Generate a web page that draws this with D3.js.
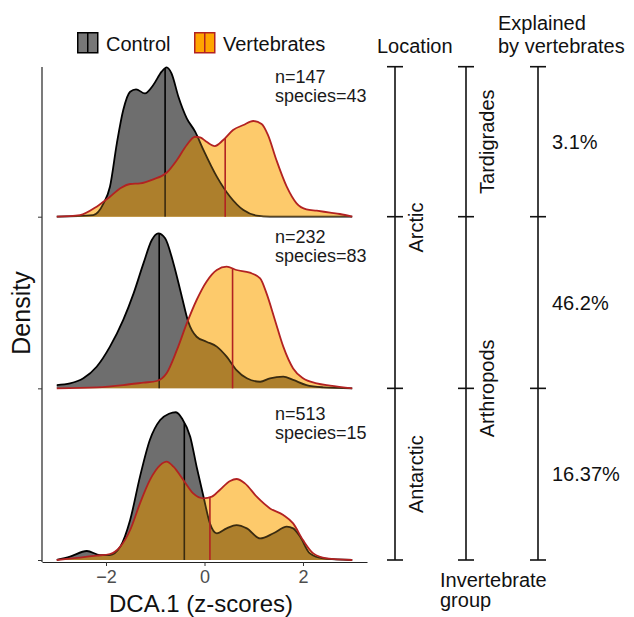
<!DOCTYPE html>
<html>
<head>
<meta charset="utf-8">
<script src="https://cdn.jsdelivr.net/npm/d3@7"></script>
<style>
  body { margin: 0; background: #fff; }
  svg { font-family: "Liberation Sans", Arial, sans-serif; }
</style>
</head>
<body>
<script>
// ---- data ----
var xTicks = [-2, 0, 2];
var sampleN = [147, 232, 513];
var speciesN = [43, 83, 15];
var controlMedian = [-0.80, -0.92, -0.41];
var vertMedian = [0.42, 0.57, 0.11];
var explained = ['3.1%', '46.2%', '16.37%'];
var locations = [{ name: 'Arctic', from: 0, to: 2 }, { name: 'Antarctic', from: 2, to: 3 }];
var groups = [{ name: 'Tardigrades', from: 0, to: 1 }, { name: 'Arthropods', from: 1, to: 3 }];

// density estimates [z-score, density] for each panel
var controlDensity = [
  [[-3.0, 0], [-2.26, 0.011], [-2.05, 0.089], [-1.92, 0.2], [-1.78, 0.489], [-1.65, 0.711], [-1.51, 0.833],
   [-1.39, 0.849], [-1.21, 0.822], [-1.04, 0.878], [-0.87, 0.967], [-0.77, 0.996], [-0.67, 0.956],
   [-0.53, 0.8], [-0.36, 0.656], [-0.19, 0.567], [-0.02, 0.444], [0.25, 0.267], [0.52, 0.133],
   [0.79, 0.044], [1.06, 0.007], [1.33, 0], [3.0, 0]],
  [[-3.0, 0.022], [-2.73, 0.033], [-2.46, 0.067], [-2.19, 0.144], [-1.92, 0.278], [-1.65, 0.456], [-1.44, 0.633],
   [-1.24, 0.833], [-1.07, 0.989], [-0.94, 1.033], [-0.80, 1.0], [-0.63, 0.833], [-0.46, 0.611],
   [-0.33, 0.444], [-0.16, 0.344], [0.04, 0.311], [0.25, 0.278], [0.45, 0.211], [0.65, 0.122],
   [0.86, 0.067], [1.13, 0.044], [1.33, 0.067], [1.60, 0.078], [1.80, 0.056], [2.07, 0.022],
   [2.41, 0.007], [3.0, 0]],
  [[-3.0, 0], [-2.73, 0.022], [-2.39, 0.06], [-2.12, 0.033], [-1.92, 0.033], [-1.71, 0.089], [-1.51, 0.267],
   [-1.31, 0.556], [-1.11, 0.8], [-0.90, 0.933], [-0.72, 0.975], [-0.58, 0.985], [-0.45, 0.94],
   [-0.29, 0.822], [-0.16, 0.622], [-0.02, 0.422], [0.11, 0.244], [0.25, 0.178], [0.45, 0.211],
   [0.65, 0.233], [0.86, 0.211], [1.13, 0.144], [1.40, 0.178], [1.67, 0.222], [1.80, 0.211],
   [1.94, 0.156], [2.14, 0.044], [2.41, 0.011], [3.0, 0]]
];
var vertDensity = [
  [[-3.0, 0], [-2.53, 0.011], [-2.19, 0.067], [-1.92, 0.133], [-1.71, 0.189], [-1.51, 0.218], [-1.31, 0.222],
   [-1.04, 0.249], [-0.77, 0.293], [-0.56, 0.378], [-0.36, 0.478], [-0.19, 0.533], [-0.09, 0.529],
   [0.04, 0.5], [0.21, 0.471], [0.38, 0.511], [0.58, 0.578], [0.79, 0.611], [0.99, 0.638], [1.16, 0.618],
   [1.29, 0.544], [1.46, 0.378], [1.67, 0.2], [1.87, 0.089], [2.07, 0.049], [2.28, 0.04], [2.55, 0.027],
   [2.75, 0.018], [3.0, 0]],
  [[-3.0, 0], [-2.19, 0.007], [-1.65, 0.022], [-1.24, 0.038], [-0.97, 0.049], [-0.77, 0.1], [-0.56, 0.256],
   [-0.36, 0.433], [-0.16, 0.589], [0.04, 0.711], [0.25, 0.789], [0.45, 0.811], [0.65, 0.789],
   [0.92, 0.771], [1.13, 0.733], [1.26, 0.633], [1.43, 0.456], [1.60, 0.278], [1.80, 0.133],
   [2.0, 0.067], [2.28, 0.033], [2.55, 0.018], [3.0, 0]],
  [[-3.0, 0], [-2.19, 0.029], [-1.92, 0.04], [-1.71, 0.089], [-1.51, 0.2], [-1.31, 0.378], [-1.11, 0.533],
   [-0.90, 0.633], [-0.77, 0.656], [-0.63, 0.622], [-0.43, 0.533], [-0.23, 0.444], [-0.02, 0.411],
   [0.15, 0.422], [0.31, 0.467], [0.52, 0.527], [0.65, 0.54], [0.82, 0.511], [1.06, 0.422],
   [1.33, 0.344], [1.60, 0.3], [1.80, 0.244], [2.0, 0.133], [2.21, 0.044], [2.48, 0.011], [3.0, 0]]
];

// ---- layout ----
var width = 634, height = 617;
var plot = { left: 42, right: 367, top: 67, bottom: 562 };
var labelOffset = [134, 145, 140];   // height of the n= label above each baseline
var colors = { control: '#6e6e6e', vert: '#fdca6b', overlap: '#ad7f2c', vertLine: '#b22222', hidden: '#3a2b10' };

var svg = d3.select('body').append('svg')
  .attr('width', width).attr('height', height);

var x = d3.scaleLinear().domain([-3.3, 3.3]).range([plot.left, plot.right]);
var base = d3.scaleLinear().domain([0, 2]).range([216.7, 560]);  // baseline of each ridge
var dens = d3.scaleLinear().domain([0, 1]).range([0, 150]);     // density -> pixel height

var defs = svg.append('defs');

controlDensity.forEach(function (ctrl, i) {
  var vert = vertDensity[i];
  var b = base(i);
  var area = d3.area().curve(d3.curveMonotoneX)
    .x(function (d) { return x(d[0]); })
    .y0(b).y1(function (d) { return b - dens(d[1]); });
  var line = area.lineY1();
  var g = svg.append('g');

  // height of a curve at a given x, to end the median lines on the curve
  function heightAt(data, v) {
    var j = d3.bisector(function (d) { return d[0]; }).left(data, v);
    var a = data[j - 1], c = data[j];
    return a[1] + (c[1] - a[1]) * (v - a[0]) / (c[0] - a[0]);
  }

  defs.append('clipPath').attr('id', 'vclip' + i)
    .append('path').attr('d', area(vert));

  g.append('path').attr('d', area(ctrl)).attr('fill', colors.control);
  g.append('path').attr('d', line(ctrl)).attr('fill', 'none').attr('stroke', '#000').attr('stroke-width', 1.8);
  g.append('line')
    .attr('x1', x(controlMedian[i])).attr('x2', x(controlMedian[i]))
    .attr('y1', b).attr('y2', b - dens(heightAt(ctrl, controlMedian[i])))
    .attr('stroke', '#000').attr('stroke-width', 1.6);

  g.append('path').attr('d', area(vert)).attr('fill', colors.vert);

  var under = g.append('g').attr('clip-path', 'url(#vclip' + i + ')');
  under.append('path').attr('d', area(ctrl)).attr('fill', colors.overlap);
  under.append('path').attr('d', line(ctrl)).attr('fill', 'none').attr('stroke', colors.hidden).attr('stroke-width', 1.8);
  under.append('line')
    .attr('x1', x(controlMedian[i])).attr('x2', x(controlMedian[i]))
    .attr('y1', b).attr('y2', b - dens(heightAt(ctrl, controlMedian[i])))
    .attr('stroke', colors.hidden).attr('stroke-width', 1.6);

  g.append('line')
    .attr('x1', x(vertMedian[i])).attr('x2', x(vertMedian[i]))
    .attr('y1', b).attr('y2', b - dens(heightAt(vert, vertMedian[i])))
    .attr('stroke', colors.vertLine).attr('stroke-width', 1.6);
  g.append('path').attr('d', line(vert)).attr('fill', 'none').attr('stroke', colors.vertLine).attr('stroke-width', 1.8);

  var t = svg.append('text').attr('x', 275).attr('y', b - labelOffset[i])
    .style('font-size', '18px').attr('fill', '#1a1a1a');
  t.append('tspan').text('n=' + sampleN[i]);
  t.append('tspan').attr('x', 275).attr('dy', 19).text('species=' + speciesN[i]);
});

// axes
var xAxis = svg.append('g')
  .attr('transform', 'translate(0,' + plot.bottom + ')')
  .call(d3.axisBottom(x).tickValues(xTicks).tickSize(4).tickSizeOuter(0)
    .tickFormat(function (d) { return d < 0 ? '\u2212' + Math.abs(d) : d; }));
xAxis.select('.domain').attr('stroke', '#222').attr('stroke-width', 1.2);
xAxis.selectAll('.tick line').attr('stroke', '#333');
xAxis.selectAll('.tick text').attr('fill', '#4d4d4d').attr('y', 8).attr('dy', '0.72em')
  .style('font-size', '18px').style('font-family', '"Liberation Sans", Arial, sans-serif');

var y = d3.scalePoint().domain([0, 1, 2]).range([base(0), base(2)]);
var yAxis = svg.append('g')
  .attr('transform', 'translate(' + plot.left + ',0)')
  .call(d3.axisLeft(y).tickSize(4).tickSizeOuter(0).tickFormat(''));
yAxis.select('.domain').attr('d', 'M0,' + plot.top + 'V' + plot.bottom)
  .attr('stroke', '#222').attr('stroke-width', 1.2);
yAxis.selectAll('.tick line').attr('stroke', '#333');

svg.append('text').attr('x', 201).attr('y', 612).attr('text-anchor', 'middle')
  .style('font-size', '24px').attr('fill', '#111').text('DCA.1 (z-scores)');
svg.append('text').attr('transform', 'translate(30,313) rotate(-90)').attr('text-anchor', 'middle')
  .style('font-size', '25px').attr('fill', '#111').text('Density');

// legend
var legendItems = [
  { label: 'Control', fill: '#777777', stroke: '#000', x: 77 },
  { label: 'Vertebrates', fill: '#ffa500', stroke: colors.vertLine, x: 194 }
];
legendItems.forEach(function (d) {
  var k = svg.append('g').attr('transform', 'translate(' + d.x + ',32)');
  k.append('rect').attr('x', 0.75).attr('y', 0.75).attr('width', 20).attr('height', 20)
    .attr('fill', d.fill).attr('stroke', d.stroke).attr('stroke-width', 1.5);
  k.append('line').attr('x1', 10.75).attr('x2', 10.75).attr('y1', 0.75).attr('y2', 20.75)
    .attr('stroke', d.stroke).attr('stroke-width', 1.5);
  svg.append('text').attr('x', d.x + 29).attr('y', 51).style('font-size', '20px')
    .attr('fill', '#111').text(d.label);
});

// brackets on the right
var edges = [base(0) - dens(1), base(0), base(1), base(2)];
function bracket(cx, segs, labelFn) {
  var g = svg.append('g');
  g.append('line').attr('x1', cx).attr('x2', cx).attr('y1', edges[0]).attr('y2', edges[3])
    .attr('stroke', '#111').attr('stroke-width', 1.6);
  edges.forEach(function (e) {
    g.append('line').attr('x1', cx - 8).attr('x2', cx + 8).attr('y1', e).attr('y2', e)
      .attr('stroke', '#111').attr('stroke-width', 1.6);
  });
  segs.forEach(function (s) { labelFn(g, s, (edges[s.from] + edges[s.to]) / 2); });
}
function rotLabel(dx) {
  return function (g, s, cy) {
    g.append('text').attr('transform', 'translate(' + dx + ',' + cy + ') rotate(-90)')
      .attr('text-anchor', 'middle').style('font-size', '20px').attr('fill', '#111').text(s.name);
  };
}
bracket(395, locations, rotLabel(423));
bracket(466, groups, rotLabel(494));
bracket(538, explained.map(function (p, i) { return { name: p, from: i, to: i + 1 }; }),
  function (g, s, cy) {
    g.append('text').attr('x', 552).attr('y', cy + 7).style('font-size', '20px')
      .attr('fill', '#111').text(s.name);
  });

svg.append('text').attr('x', 377).attr('y', 53).style('font-size', '20px').attr('fill', '#111').text('Location');
var ex = svg.append('text').attr('x', 498).attr('y', 30).style('font-size', '20px').attr('fill', '#111');
ex.append('tspan').text('Explained');
ex.append('tspan').attr('x', 498).attr('dy', 23).text('by vertebrates');
var ig = svg.append('text').attr('x', 440).attr('y', 587).style('font-size', '20px').attr('fill', '#111');
ig.append('tspan').text('Invertebrate');
ig.append('tspan').attr('x', 440).attr('dy', 20).text('group');
</script>
</body>
</html>
